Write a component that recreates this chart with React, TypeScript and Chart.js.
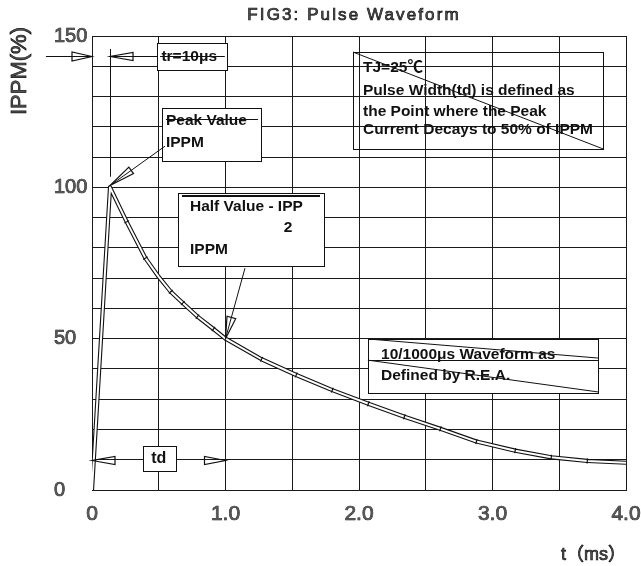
import React, { useEffect, useRef } from 'react';
import { Chart, registerables } from 'chart.js';

Chart.register(...registerables);

// ---- data ----
const timeMs = [0, 0.135, 0.26, 0.40, 0.50, 0.59, 0.68, 0.79, 0.91, 1.0, 1.27, 1.53, 1.80, 2.07, 2.34, 2.61, 2.88, 3.17, 3.44, 3.71, 4.0];
const ippmPct = [0, 100, 88.6, 76.6, 70.4, 65.5, 61.8, 57.3, 53.2, 50, 43.2, 38.0, 33.0, 28.5, 24.2, 20.2, 16.0, 13.0, 10.8, 9.6, 9.0];
const hasMarker = [false, false, true, true, false, true, true, true, true, false, true, true, true, true, true, true, true, true, true, true, false];

const xTickValues = [0, 1, 2, 3, 4];
const xTickLabels = ['0', '1.0', '2.0', '3.0', '4.0'];
const yTickValues = [0, 50, 100, 150];
const yTickLabels = ['0', '50', '100', '150'];

const titleText = 'FIG3: Pulse Waveform';
const yTitle = 'IPPM(%)';
const xTitle = 't（ms）';

const FONT = '"Liberation Sans", Arial, "Noto Sans CJK SC", sans-serif';

const annotationPlugin = {
  id: 'pulseAnnotations',
  afterDraw(chart: any) {
    const ctx: CanvasRenderingContext2D = chart.ctx;
    const xs = chart.scales.x;
    const ys = chart.scales.y;
    const X = (t: number) => xs.getPixelForValue(t);
    const Y = (v: number) => ys.getPixelForValue(v);
    const a = (p: number) => Math.round(p) + 0.5;

    ctx.save();
    ctx.strokeStyle = '#111';
    ctx.fillStyle = '#111';
    ctx.lineWidth = 1;

    const line = (x1: number, y1: number, x2: number, y2: number, w = 1) => {
      ctx.lineWidth = w;
      ctx.beginPath();
      ctx.moveTo(x1, y1);
      ctx.lineTo(x2, y2);
      ctx.stroke();
      ctx.lineWidth = 1;
    };
    const box = (x1: number, y1: number, x2: number, y2: number, fill: boolean) => {
      const l = a(x1), t = a(y1), r = a(x2), b = a(y2);
      if (fill) {
        ctx.fillStyle = '#fff';
        ctx.fillRect(l, t, r - l, b - t);
        ctx.fillStyle = '#111';
      }
      ctx.lineWidth = 1;
      ctx.strokeRect(l, t, r - l, b - t);
    };
    const head = (tipX: number, tipY: number, fromX: number, fromY: number, len: number, half: number) => {
      const dx = fromX - tipX, dy = fromY - tipY;
      const d = Math.hypot(dx, dy);
      const ux = dx / d, uy = dy / d;
      const bx = tipX + ux * len, by = tipY + uy * len;
      ctx.beginPath();
      ctx.moveTo(tipX, tipY);
      ctx.lineTo(bx - uy * half, by + ux * half);
      ctx.lineTo(bx + uy * half, by - ux * half);
      ctx.closePath();
      ctx.lineWidth = 1.2;
      ctx.stroke();
      ctx.lineWidth = 1;
    };
    const text = (s: string, x: number, y: number, font: string, align: CanvasTextAlign = 'left') => {
      ctx.font = font;
      ctx.textAlign = align;
      ctx.textBaseline = 'middle';
      ctx.fillStyle = '#111';
      ctx.fillText(s, x, y);
    };
    const bold = `bold 15.5px ${FONT}`;

    // tr = 10us marker
    const trY = a(Y(143.4));
    line(X(-0.345), trY, X(0), trY);
    head(X(0), trY, X(-0.345), trY, 20, 4.5);
    line(a(X(0.135)), Y(145.7), a(X(0.135)), Y(103.5));
    line(X(0.135), trY, X(0.487), trY);
    head(X(0.135), trY, X(0.487), trY, 23, 4);
    box(X(0.487), Y(147.7), X(1.011), Y(138.8), true);
    text('tr=10μs', X(0.52), trY, bold);
    line(X(0.51), trY, X(0.995), trY);

    // Peak value
    box(X(0.524), Y(126.2), X(1.266), Y(108.7), true);
    text('Peak Value', X(0.554), Y(121.9), bold);
    line(X(0.554), a(Y(122.6)), X(1.243), a(Y(122.6)));
    text('IPPM', X(0.554), Y(114.9), bold);
    line(X(0.547), Y(113.6), X(0.135), Y(100.6));
    head(X(0.135), Y(100.6), X(0.547), Y(113.6), 26, 4);

    // TJ note (not filled)
    const tjL = X(1.955), tjR = X(3.828), tjT = Y(144.7), tjB = Y(112.7);
    box(tjL, tjT, tjR, tjB, false);
    line(tjL, tjT, tjR, tjB);
    text('TJ=25℃', X(2.03), Y(139.4), bold);
    text('Pulse Width(td) is defined as', X(2.03), Y(131.8), bold);
    text('the Point where the Peak', X(2.03), Y(124.9), bold);
    text('Current Decays to 50% of IPPM', X(2.03), Y(118.9), bold);

    // Half value
    box(X(0.644), Y(98.1), X(1.738), Y(74.0), true);
    line(X(0.674), Y(97.1), X(1.708), Y(97.1), 2);
    text('Half Value - IPP', X(0.734), Y(93.5), bold);
    text('2', X(1.468), Y(86.6), bold, 'center');
    text('IPPM', X(0.734), Y(79.3), bold);
    line(X(1.146), Y(73.3), X(1.0), Y(50));
    head(X(1.0), Y(50), X(1.146), Y(73.3), 22, 4.5);

    // 10/1000us box
    const wL = X(2.067), wR = X(3.79);
    box(wL, Y(49.9), wR, Y(32.0), true);
    line(wL, a(Y(42.9)), wR, a(Y(42.9)));
    line(wL, Y(49.9), wR, Y(43.6));
    line(wL, Y(42.9), wR, Y(32.4));
    text('10/1000μs Waveform as', X(2.165), Y(44.6), bold);
    text('Defined by R.E.A.', X(2.165), Y(37.7), bold);

    // td
    const tdY = a(Y(10));
    head(X(0), tdY, X(1), tdY, 23, 4);
    head(X(1), tdY, X(0), tdY, 21, 4);
    box(X(0.382), Y(14.5), X(0.629), Y(6.3), true);
    text('td', X(0.5), Y(10.3), `bold 16px ${FONT}`, 'center');

    // outer texts
    ctx.font = `17px ${FONT}`;
    (ctx as any).letterSpacing = '2.1px';
    ctx.textAlign = 'center';
    ctx.textBaseline = 'middle';
    ctx.fillStyle = '#555';
    ctx.lineWidth = 0.7;
    ctx.strokeStyle = '#111';
    ctx.fillText(titleText, 354, 15);
    ctx.strokeText(titleText, 354, 15);
    (ctx as any).letterSpacing = '0px';

    ctx.save();
    ctx.translate(20, 71);
    ctx.rotate(-Math.PI / 2);
    ctx.font = `22px ${FONT}`;
    ctx.fillText(yTitle, 0, 0);
    ctx.strokeText(yTitle, 0, 0);
    ctx.restore();

    ctx.font = `18px ${FONT}`;
    ctx.textAlign = 'right';
    ctx.fillText(xTitle, 626, 555);
    ctx.strokeText(xTitle, 626, 555);

    ctx.restore();
  },
};

export default function App() {
  const ref = useRef<HTMLCanvasElement>(null);

  useEffect(() => {
    if (!ref.current) return;
    const pts = timeMs.map((t, i) => ({ x: t, y: ippmPct[i] }));
    const rotation = (c: any) => {
      const ch = c.chart;
      const i = c.dataIndex;
      const xs = ch.scales && ch.scales.x;
      const ys = ch.scales && ch.scales.y;
      if (!xs || !ys || i == null) return 0;
      const p = Math.max(0, i - 1);
      const n = Math.min(timeMs.length - 1, i + 1);
      const dx = xs.getPixelForValue(timeMs[n]) - xs.getPixelForValue(timeMs[p]);
      const dy = ys.getPixelForValue(ippmPct[n]) - ys.getPixelForValue(ippmPct[p]);
      return (Math.atan2(dy, dx) * 180) / Math.PI + 90;
    };

    const chart = new Chart(ref.current, {
      type: 'line',
      data: {
        datasets: [
          {
            data: pts,
            borderColor: '#ffffff',
            borderWidth: 2,
            borderJoinStyle: 'round',
            tension: 0,
            pointStyle: 'line',
            pointRadius: (c: any) => (hasMarker[c.dataIndex] ? 2.6 : 0),
            pointBorderColor: '#111',
            pointBorderWidth: 1.2,
            pointRotation: rotation,
            pointHoverRadius: 0,
          } as any,
          {
            data: pts,
            borderColor: '#111',
            borderWidth: 4.2,
            borderJoinStyle: 'round',
            tension: 0,
            pointRadius: 0,
            pointHoverRadius: 0,
          } as any,
        ],
      },
      options: {
        responsive: false,
        animation: false,
        events: [],
        layout: { padding: { left: 54, right: 15, top: 36, bottom: 0 } },
        plugins: {
          legend: { display: false },
          title: { display: false },
          tooltip: { enabled: false },
        },
        scales: {
          x: {
            type: 'linear',
            min: 0,
            max: 4,
            afterFit: (s: any) => { s.height = 76; s.paddingLeft = 0; s.paddingRight = 0; },
            grid: { color: '#1a1a1a', lineWidth: 1, drawTicks: false },
            border: { color: '#1a1a1a', width: 1 },
            ticks: {
              stepSize: 0.5,
              autoSkip: false,
              maxRotation: 0,
              padding: 12,
              color: '#555',
              textStrokeColor: '#111',
              textStrokeWidth: 0.7,
              font: { family: FONT, size: 21 },
              callback: (v: any) => {
                const k = xTickValues.indexOf(Number(v));
                return k >= 0 ? xTickLabels[k] : '';
              },
            },
          },
          y: {
            type: 'linear',
            min: 0,
            max: 150,
            afterFit: (s: any) => { s.width = 38; s.paddingTop = 0; s.paddingBottom = 0; },
            grid: { color: '#1a1a1a', lineWidth: 1, drawTicks: false },
            border: { color: '#1a1a1a', width: 1 },
            ticks: {
              stepSize: 10,
              autoSkip: false,
              crossAlign: 'far',
              color: '#555',
              textStrokeColor: '#111',
              textStrokeWidth: 0.7,
              font: { family: FONT, size: 20 },
              callback: (v: any) => {
                const k = yTickValues.indexOf(Number(v));
                return k >= 0 ? yTickLabels[k] : '';
              },
            },
          },
        },
      } as any,
      plugins: [annotationPlugin],
    });
    return () => chart.destroy();
  }, []);

  return (
    <div style={{ position: 'absolute', left: 0, top: 0, width: 641, height: 566, background: '#fff' }}>
      <canvas ref={ref} width={641} height={566} style={{ display: 'block', width: 641, height: 566 }} />
    </div>
  );
}
